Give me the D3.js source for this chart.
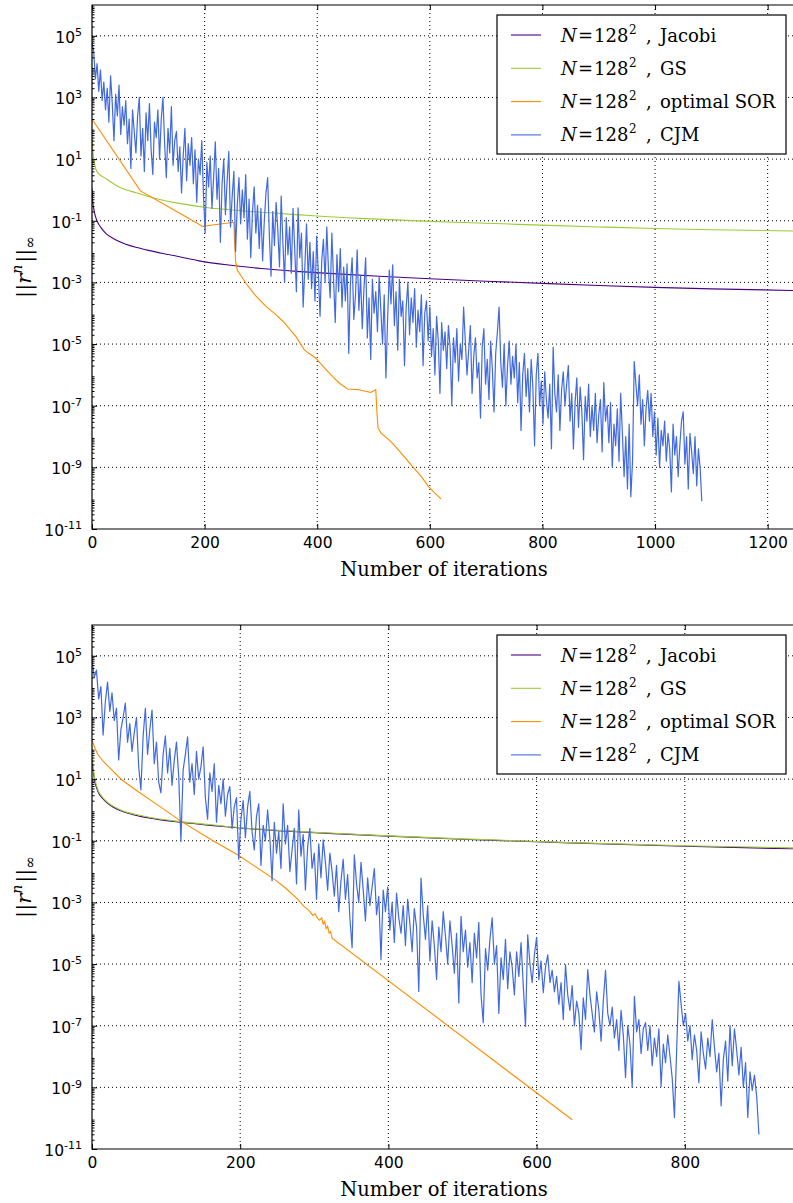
<!DOCTYPE html>
<html>
<head>
<meta charset="utf-8">
<script src="https://cdn.jsdelivr.net/npm/d3@7"></script>
<style>
  body { margin: 0; background: #fff; }
  svg { display: block; }
</style>
</head>
<body>
<svg id="chart"></svg>
<script>
// ---- data (residual norms stored as log10 values) ----
const cjmStep = 3; // CJM values are listed every 3 iterations

// top panel
const jacobiTop = [[0, 0.05], [1, -0.3], [3, -0.6], [6, -0.85], [10, -1.05], [15, -1.2], [25, -1.42],
  [40, -1.6], [60, -1.76], [80, -1.87], [100, -1.96], [140, -2.11], [190, -2.3], [250, -2.45],
  [300, -2.55], [370, -2.65], [450, -2.74], [510, -2.8], [600, -2.88], [700, -2.96], [811, -3.04],
  [900, -3.1], [1000, -3.16], [1100, -3.21], [1245, -3.26]];
const gsTop = [[0, 1.65], [2, 1.2], [5, 0.81], [10, 0.56], [23, 0.39], [50, 0.08], [80, -0.1],
  [110, -0.26], [150, -0.42], [200, -0.56], [290, -0.71], [370, -0.81], [420, -0.87], [500, -0.94],
  [600, -1.02], [700, -1.08], [811, -1.15], [900, -1.2], [1000, -1.25], [1100, -1.29], [1245, -1.33]];
const sorTop = [[0, 2.3], [86, -0.03], [170, -0.9], [197, -1.19], [200, -1.17], [252, -1.05],
  [253, -1.6], [255, -2.3], [258, -2.6], [273, -3.02], [290, -3.42], [309, -3.78], [325, -4.02],
  [339, -4.26], [362, -4.75], [377, -5.18], [385, -5.3], [397, -5.45], [412, -5.76], [427, -6.05],
  [440, -6.28], [454, -6.46], [474, -6.48], [495, -6.57], [504, -6.48], [506, -7.2], [508, -7.72],
  [513, -7.88], [530, -8.15], [545, -8.45], [569, -8.97], [585, -9.3], [597, -9.61], [610, -9.85],
  [620, -10.02]];
const cjmTop = [
  4.8, 4.5, 3.6, 4.1, 3.2, 3.9, 2.9, 3.5, 2.6, 3.3,
  2.2, 3.7, 2.8, 1.6, 3.1, 2.4, 3.4, 1.8, 2.7, 2.1,
  2.9, 1.5, 2.3, 0.7, 2.6, 1.9, 1.2, 2.4, 3.0, 1.1,
  2.0, 0.6, 2.5, 1.6, 2.8, 1.3, 0.5, 2.2, 1.7, 2.6,
  1.0, 2.3, 3.0, 1.5, 0.4, 2.0, 1.2, 2.7, 0.8, 1.6,
  1.9, 0.6, 1.4, -0.1, 1.1, 2.0, 0.3, 1.5, 0.8, 1.7,
  0.2, 1.3, -0.4, 1.0, 0.5, 1.6, -0.2, -1.4, 0.9, 0.1,
  1.1, -0.6, 0.4, 1.56, -0.3, 0.7, -1.7, 0.2, 1.0, -0.8,
  0.3, 1.25, -1.2, -0.2, 0.6, -2.0, -0.5, 0.4, -1.1, 0.0,
  -0.9, 0.5, -1.6, -0.3, -2.2, -0.7, 0.1, -1.4, -0.5, -1.9,
  -0.6, -2.3, -1.0, -0.1, 0.4, -1.5, -2.8, -0.7, -1.8, -0.4,
  -1.3, -2.5, -0.2, -1.7, -3.0, -0.9, -2.1, -1.2, -2.7, -0.6,
  -1.9, -3.3, -0.58, -2.2, -1.4, -3.8, -2.5, -1.1, -2.9, -1.7,
  -3.2, -2.0, -3.6, -1.5, -2.7, -4.1, -2.3, -1.6, -3.0, -1.2,
  -2.6, -3.5, -1.4, -2.9, -4.3, -2.1, -3.3, -1.9, -3.8, -2.5,
  -3.6, -2.4, -5.3, -3.0, -2.2, -4.2, -3.4, -1.94, -3.9, -2.8,
  -4.5, -3.2, -2.2, -4.8, -3.5, -5.5, -2.9, -4.0, -3.3, -4.6,
  -2.8, -3.9, -5.0, -3.4, -6.1, -4.2, -2.6, -3.7, -2.43, -4.4,
  -3.3, -5.2, -2.9, -4.1, -3.6, -5.7, -3.8, -3.0, -4.7, -3.5,
  -4.3, -3.2, -5.1, -3.9, -4.6, -3.4, -5.7, -4.0, -3.6, -4.9,
  -3.8, -5.4, -4.5, -6.0, -4.1, -4.9, -6.6, -4.3, -5.2, -4.6,
  -5.8, -4.4, -5.1, -7.0, -4.8, -5.6, -4.5, -6.2, -5.0, -5.5,
  -3.8, -4.9, -6.0, -5.2, -4.4, -6.6, -5.4, -4.8, -6.1, -5.6,
  -7.4, -5.1, -4.5, -6.3, -5.5, -6.8, -4.9, -5.8, -7.2, -5.3,
  -4.6, -3.8, -5.6, -6.4, -5.0, -7.0, -5.7, -4.9, -6.3, -5.4,
  -6.1, -5.0, -6.9, -5.6, -7.8, -6.0, -5.3, -6.7, -5.8, -7.2,
  -5.5, -6.4, -8.3, -6.0, -5.3, -7.0, -6.2, -7.6, -5.9, -6.8,
  -7.4, -6.3, -8.4, -5.1, -6.6, -7.2, -6.0, -7.8, -6.5, -5.9,
  -7.0, -6.3, -5.7, -7.5, -6.6, -8.4, -6.9, -6.1, -7.7, -6.4,
  -7.2, -8.75, -6.7, -7.5, -6.3, -8.0, -7.0, -7.8, -6.6, -8.2,
  -7.3, -6.8, -8.5, -6.25, -7.5, -7.0, -8.2, -6.9, -9.0, -7.6,
  -8.3, -7.1, -8.8, -6.6, -7.9, -9.3, -8.0, -9.7, -7.6, -9.95,
  -8.8, -5.57, -6.3, -7.0, -6.0, -7.6, -6.8, -8.3, -7.1, -6.5,
  -7.5, -6.6, -8.0, -7.2, -8.6, -7.4, -9.0, -7.8, -8.3, -7.5,
  -8.8, -7.9, -8.4, -9.8, -7.6, -8.6, -8.0, -9.3, -8.3, -7.5,
  -7.2, -8.9, -8.0, -9.7, -7.9, -8.5, -9.2, -8.0, -9.6, -8.4,
  -9.0, -10.1];

// bottom panel
const jacobiBottom = [[0, 1.6], [2, 1.2], [4, 0.9], [8, 0.6], [14, 0.38], [22, 0.2], [39, -0.03],
  [60, -0.18], [85, -0.29], [120, -0.4], [160, -0.5], [197, -0.58], [250, -0.67], [319, -0.76],
  [400, -0.85], [500, -0.95], [646, -1.07], [800, -1.18], [946, -1.26]];
const gsBottom = [[0, 1.7], [2, 1.3], [4, 1.0], [8, 0.65], [14, 0.42], [22, 0.23], [39, 0.0],
  [60, -0.15], [85, -0.27], [120, -0.38], [160, -0.48], [197, -0.57], [250, -0.66], [319, -0.75],
  [400, -0.84], [500, -0.94], [646, -1.06], [800, -1.16], [946, -1.23]];
const sorBottom = [[0, 2.27], [4, 2.0], [8, 1.79], [15, 1.58], [22, 1.41], [40, 0.98], [62, 0.6],
  [85, 0.22], [121, -0.38], [161, -0.97], [197, -1.46], [215, -1.75], [247, -2.27], [262, -2.55],
  [278, -2.91], [286, -3.13], [290, -3.2], [294, -3.3], [298, -3.42], [301, -3.36], [304, -3.5],
  [307, -3.58], [310, -3.5], [312, -3.7], [314, -3.62], [316, -3.85], [318, -3.78], [320, -4.0],
  [322, -3.95], [324, -4.16], [648, -10.05]];
const cjmBottom = [
  4.87, 4.3, 4.54, 3.6, 4.0, 2.43, 3.5, 4.15, 3.2, 3.8,
  2.9, 3.3, 1.62, 2.6, 3.0, 3.47, 2.2, 2.8, 1.9, 2.5,
  3.0, 1.4, 0.65, 2.4, 3.3, 1.8, 2.6, 3.24, 1.5, 2.2,
  0.9, 0.55, 1.8, 2.4, 1.2, 2.0, 0.8, 1.6, 2.2, 1.1,
  -1.02, 1.3, 1.8, 2.37, 0.9, 1.5, 0.5, 1.9, 1.0, 1.4,
  2.05, 0.4, -0.3, 1.2, 0.6, 1.5, -0.4, 0.8, 0.2, 1.0,
  -0.2, 0.5, 0.76, -0.6, 0.1, 0.4, -1.6, -0.3, 0.3, -0.9,
  0.1, 0.6, -0.7, -1.3, -0.2, 0.2, -1.8, -0.5, -1.0, 0.0,
  -0.9, -2.3, -0.4, -1.4, -0.7, -1.9, 0.2, -1.1, -0.5, -2.0,
  -1.3, -0.6, -2.4, 0.0, -1.5, -0.8, -2.6, -1.2, -0.6, -1.9,
  -1.4, -2.9, -1.1, -2.2, -0.97, -1.7, -2.6, -1.4, -2.0, -2.8,
  -1.8, -3.3, -2.3, -1.6, -2.9, -2.1, -3.5, -4.47, -1.46, -2.4,
  -3.0, -1.7, -2.6, -3.6, -2.2, -3.1, -2.5, -1.9, -3.4, -2.8,
  -4.86, -2.6, -3.3, -2.5, -3.9, -3.0, -4.3, -2.7, -3.5, -4.0,
  -3.1, -4.4, -2.9, -3.7, -4.6, -3.2, -3.8, -5.89, -2.21, -3.4,
  -4.2, -3.1, -4.9, -3.6, -4.4, -5.5, -3.8, -4.6, -3.3, -4.1,
  -5.0, -3.6, -4.4, -5.3, -4.0, -6.26, -3.45, -4.6, -3.9, -5.1,
  -4.3, -5.6, -4.0, -4.8, -3.65, -6.0, -6.9, -4.5, -5.2, -4.2,
  -3.5, -5.0, -4.4, -6.6, -4.8, -5.5, -4.2, -5.8, -4.6, -5.1,
  -6.0, -4.6, -5.4, -4.3, -5.7, -7.02, -4.05, -5.0, -5.6, -4.7,
  -4.13, -5.5, -4.9, -5.93, -5.1, -4.7, -5.6, -5.2, -5.9, -5.4,
  -6.3, -5.6, -6.8, -5.02, -6.0, -6.5, -5.7, -7.0, -6.2, -6.6,
  -7.78, -6.1, -6.8, -5.18, -6.0, -6.6, -7.2, -5.9, -6.5, -7.5,
  -6.2, -5.2, -6.6, -7.0, -6.4, -7.4, -6.8, -7.8, -6.5, -7.3,
  -8.68, -7.0, -7.6, -9.0, -6.05, -7.2, -6.8, -7.9, -7.1, -6.9,
  -7.8, -7.0, -8.3, -7.4, -8.0, -7.1, -8.97, -7.6, -8.2, -7.3,
  -8.0, -8.7, -9.98, -7.8, -5.56, -6.3, -7.0, -6.6, -7.5, -7.0,
  -8.1, -7.3, -7.8, -8.85, -7.2, -7.9, -8.4, -7.4, -8.0, -6.8,
  -7.7, -8.5, -7.9, -9.6, -8.1, -7.5, -8.8, -7.0, -8.3, -7.1,
  -7.8, -8.6, -7.7, -9.0, -8.2, -9.98, -8.5, -9.1, -8.6, -9.3,
  -10.53];

const legendLabels = ["Jacobi", "GS", "optimal SOR", "CJM"];
const colors = ["#4b0082", "#9acd32", "#ff8c00", "#4169e1"];
const yTickExps = [5, 3, 1, -1, -3, -5, -7, -9, -11];

// ---- layout ----
const width = 793, height = 1203;
const serif = "'DejaVu Serif', serif";
const sans = "'DejaVu Sans', sans-serif";

const svg = d3.select("#chart")
  .attr("width", width)
  .attr("height", height)
  .attr("viewBox", [0, 0, width, height]);

const panels = [
  { id: "top", top: 5, bottom: 529, xMax: 1245, xTicks: [0, 200, 400, 600, 800, 1000, 1200],
    series: [jacobiTop, gsTop, sorTop, cjmTop] },
  { id: "bottom", top: 625, bottom: 1149, xMax: 946, xTicks: [0, 200, 400, 600, 800],
    series: [jacobiBottom, gsBottom, sorBottom, cjmBottom] }
];

const marginLeft = 92;

panels.forEach(p => {
  const x = d3.scaleLinear().domain([0, p.xMax]).range([marginLeft, width]);
  const y = d3.scaleLog().domain([1e-11, 1e6]).range([p.bottom, p.top]);

  const g = svg.append("g");

  // clip
  g.append("clipPath").attr("id", "clip-" + p.id)
    .append("rect")
    .attr("x", marginLeft).attr("y", p.top)
    .attr("width", width - marginLeft).attr("height", p.bottom - p.top);

  // grid lines
  g.append("g")
    .selectAll("line")
    .data(p.xTicks.filter(d => d > 0))
    .join("line")
    .attr("x1", d => x(d)).attr("x2", d => x(d))
    .attr("y1", p.top).attr("y2", p.bottom)
    .attr("stroke", "#000").attr("stroke-width", 1)
    .attr("stroke-dasharray", "1,3");
  g.append("g")
    .selectAll("line")
    .data(yTickExps.filter(e => e > -11))
    .join("line")
    .attr("x1", marginLeft).attr("x2", width)
    .attr("y1", e => y(Math.pow(10, e))).attr("y2", e => y(Math.pow(10, e)))
    .attr("stroke", "#000").attr("stroke-width", 1)
    .attr("stroke-dasharray", "1,3");

  // series lines
  const smooth = d3.line()
    .x(d => x(d[0]))
    .y(d => y(Math.pow(10, d[1])))
    .curve(d3.curveMonotoneX);
  const straight = d3.line()
    .x(d => x(d[0]))
    .y(d => y(Math.pow(10, d[1])));

  const lines = g.append("g").attr("clip-path", `url(#clip-${p.id})`)
    .attr("fill", "none").attr("stroke-width", 1.1);
  lines.append("path").attr("d", smooth(p.series[0])).attr("stroke", colors[0]);
  lines.append("path").attr("d", smooth(p.series[1])).attr("stroke", colors[1]);
  lines.append("path").attr("d", straight(p.series[2])).attr("stroke", colors[2]);
  lines.append("path")
    .attr("d", straight(p.series[3].map((v, i) => [i * cjmStep, v])))
    .attr("stroke", colors[3])
    .attr("stroke-width", 1.2)
    .attr("stroke-linejoin", "round");

  // axes (ticks point inwards)
  const minorVals = [];
  for (let e = -11; e < 6; e++) for (let m = 2; m <= 9; m++) minorVals.push(m * Math.pow(10, e));

  g.append("g")
    .attr("transform", `translate(${marginLeft},0)`)
    .call(d3.axisLeft(y).tickValues(minorVals).tickSize(-2.5).tickFormat(""))
    .call(a => a.select(".domain").remove());

  g.append("g")
    .attr("transform", `translate(${marginLeft},0)`)
    .call(d3.axisLeft(y)
      .tickValues(yTickExps.map(e => Math.pow(10, e)))
      .tickSize(-5)
      .tickPadding(10)
      .tickFormat(""))
    .call(a => a.select(".domain").remove())
    .call(a => a.selectAll(".tick text")
      .attr("font-family", sans)
      .attr("font-size", 15.5)
      .attr("fill", "#000")
      .attr("dy", "0.42em")
      .each(function (d) {
        const t = d3.select(this);
        const e = Math.round(Math.log10(d));
        t.append("tspan").text("10");
        t.append("tspan").attr("font-size", 11).attr("dy", "-0.62em").text(String(e));
      }));

  g.append("g")
    .attr("transform", `translate(0,${p.bottom})`)
    .call(d3.axisBottom(x).tickValues(p.xTicks).tickSize(-5).tickPadding(8).tickFormat(d3.format("d")))
    .call(a => a.select(".domain").remove())
    .call(a => a.selectAll(".tick text")
      .attr("font-family", sans)
      .attr("font-size", 15.5)
      .attr("fill", "#000"));

  g.append("g")
    .attr("transform", `translate(0,${p.top})`)
    .call(d3.axisTop(x).tickValues(p.xTicks).tickSize(-5).tickFormat(""))
    .call(a => a.select(".domain").remove());

  // frame (right spine falls outside the page)
  g.append("path")
    .attr("d", `M${width + 5},${p.top}H${marginLeft}V${p.bottom}H${width + 5}`)
    .attr("fill", "none").attr("stroke", "#000").attr("stroke-width", 1.2);

  // axis labels
  g.append("text")
    .attr("x", 444).attr("y", p.bottom + 47)
    .attr("text-anchor", "middle")
    .attr("font-family", serif).attr("font-size", 19.5)
    .text("Number of iterations");

  const yl = g.append("text")
    .attr("transform", `translate(31,${(p.top + p.bottom) / 2}) rotate(-90)`)
    .attr("text-anchor", "middle")
    .attr("font-family", serif).attr("font-size", 21);
  yl.append("tspan").text("||");
  yl.append("tspan").attr("font-style", "italic").text("r");
  yl.append("tspan").attr("font-style", "italic").attr("font-size", 14).attr("dy", -9).text("n");
  yl.append("tspan").attr("dy", 9).attr("dx", 2).text("||");
  yl.append("tspan").attr("font-size", 15).attr("dy", 4).text("∞");

  // legend
  const lg = g.append("g").attr("transform", `translate(497,${p.top + 10})`);
  lg.append("rect").attr("width", 289).attr("height", 139)
    .attr("fill", "#fff").attr("stroke", "#000").attr("stroke-width", 1.2);
  const rows = lg.selectAll("g.row")
    .data(legendLabels)
    .join("g")
    .attr("class", "row")
    .attr("transform", (d, i) => `translate(0,${20 + i * 33.3})`);
  rows.append("line")
    .attr("x1", 14).attr("x2", 44)
    .attr("stroke", (d, i) => colors[i]).attr("stroke-width", 1.1);
  rows.append("text")
    .attr("y", 6.5)
    .attr("font-family", serif).attr("font-size", 18)
    .call(t => {
      t.append("tspan").attr("x", 64).attr("font-style", "italic").text("N");
      t.append("tspan").attr("x", 81).text("=");
      t.append("tspan").attr("x", 97).text("128");
      t.append("tspan").attr("x", 132).attr("font-size", 12).attr("dy", -8).text("2");
      t.append("tspan").attr("x", 149).attr("dy", 8).text(",");
      t.append("tspan").attr("x", 163).text(d => d);
    });
});
</script>
</body>
</html>
